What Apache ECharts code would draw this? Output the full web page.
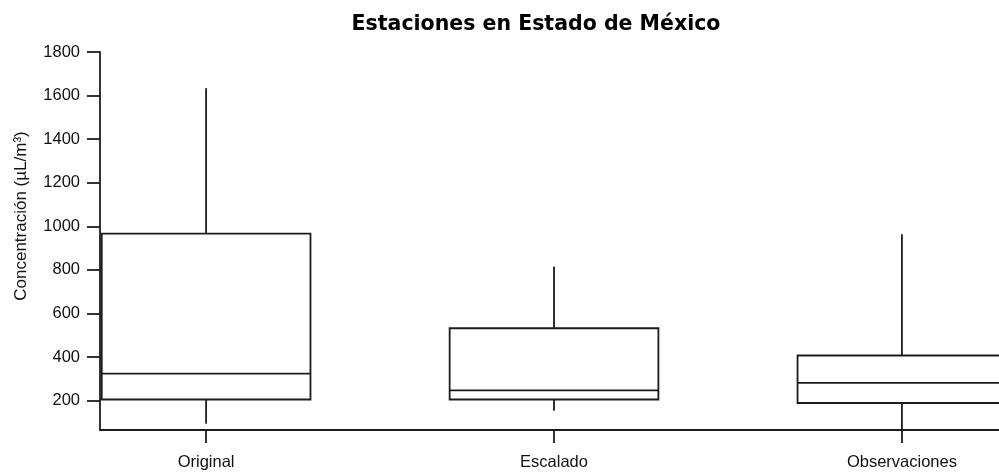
<!DOCTYPE html>
<html>
<head>
<meta charset="utf-8">
<script src="https://cdn.jsdelivr.net/npm/echarts@6/dist/echarts.min.js"></script>
<style>html,body{margin:0;padding:0;background:#fff}#c{width:999px;height:472px}</style>
</head>
<body>
<div id="c"></div>
<script>
const categories = ['Original', 'Escalado', 'Observaciones'];
const minVals    = [94, 153, 65];
const q1Vals     = [205, 205, 189];
const medianVals = [324, 247, 281];
const q3Vals     = [966, 532, 407];
const maxVals    = [1634, 815, 963];
const yTicks = [200, 400, 600, 800, 1000, 1200, 1400, 1600, 1800];

const data = categories.map((c, i) => [i, minVals[i], q1Vals[i], medianVals[i], q3Vals[i], maxVals[i]]);
const ink = '#1c1c1c';
const font = '"Liberation Sans", Arial, sans-serif';

const chart = echarts.init(document.getElementById('c'), null, {renderer: 'canvas'});
chart.setOption({
  animation: false,
  backgroundColor: '#fff',
  title: {
    text: 'Estaciones en Estado de México',
    left: 531, top: 9, textAlign: 'center',
    textStyle: {fontFamily: '"DejaVu Sans", sans-serif', fontWeight: 'bold', fontSize: 20.5, color: '#000'}
  },
  grid: {left: 100, right: 0, top: 52, bottom: 42, containLabel: false},
  xAxis: {
    type: 'value', min: -0.305, max: 2.279,
    splitLine: {show: false},
    axisLine: {onZero: false, lineStyle: {color: ink, width: 1.8}},
    axisTick: {show: true, length: 13, customValues: [0, 1, 2], lineStyle: {color: ink, width: 1.8}},
    axisLabel: {customValues: [0, 1, 2], formatter: v => categories[Math.round(v)], margin: 24,
      fontFamily: font, fontSize: 16.5, color: '#111'}
  },
  yAxis: {
    type: 'value', min: 65, max: 1800,
    name: 'Concentración (µL/m³)', nameLocation: 'middle', nameGap: 70, nameRotate: 90,
    nameTextStyle: {fontFamily: font, fontSize: 17, color: '#111', padding: [0, 0, 0, 50]},
    splitLine: {show: false},
    axisLine: {show: true, onZero: false, lineStyle: {color: ink, width: 1.8}},
    axisTick: {show: true, length: 13, customValues: yTicks, lineStyle: {color: ink, width: 1.8}},
    axisLabel: {customValues: yTicks, margin: 20, formatter: v => String(v),
      fontFamily: font, fontSize: 16.5, color: '#111'}
  },
  series: [{
    type: 'custom',
    clip: false,
    data: data,
    encode: {x: 0, y: [1, 2, 3, 4, 5]},
    renderItem: function (params, api) {
      const x = api.value(0);
      const pMin = api.coord([x, api.value(1)]);
      const pQ1 = api.coord([x, api.value(2)]);
      const pMed = api.coord([x, api.value(3)]);
      const pQ3 = api.coord([x, api.value(4)]);
      const pMax = api.coord([x, api.value(5)]);
      const w = api.size([0.6, 0])[0];
      const st = {stroke: ink, lineWidth: 1.8, fill: null};
      return {
        type: 'group',
        children: [
          {type: 'line', shape: {x1: pMax[0], y1: pMax[1], x2: pQ3[0], y2: pQ3[1]}, style: st},
          {type: 'line', shape: {x1: pQ1[0], y1: pQ1[1], x2: pMin[0], y2: pMin[1]}, style: st},
          {type: 'rect', shape: {x: pQ3[0] - w / 2, y: pQ3[1], width: w, height: pQ1[1] - pQ3[1]},
            style: {stroke: ink, lineWidth: 1.8, fill: '#fff'}},
          {type: 'line', shape: {x1: pMed[0] - w / 2, y1: pMed[1], x2: pMed[0] + w / 2, y2: pMed[1]}, style: st}
        ]
      };
    }
  }]
});
</script>
</body>
</html>
